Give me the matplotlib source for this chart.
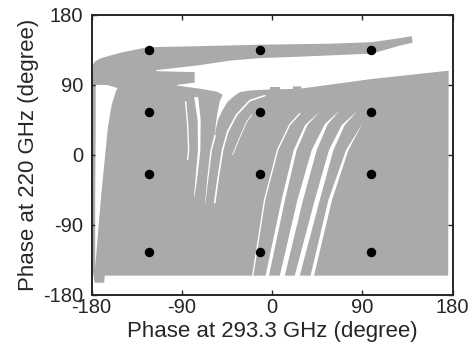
import matplotlib
matplotlib.use('Agg')
import matplotlib.pyplot as plt
import numpy as np

plt.rcParams['font.family'] = ['Liberation Sans', 'DejaVu Sans']

# ---- data (degrees) ----
ticks = [-180, -90, 0, 90, 180]
dot_x = [-123, -12, 99]
dot_y = [135, 55, -25, -125]

# outline of the covered phase region
region_x = [-180, -177, -172, -162, -151, -124.2, -72.3, -12.5, 57.3, 99.2, 127.1, 139.1, 140.1,
            127.1, 99.2, 27.4, -12.5, -42.4, -72.3, -116.2,
            -115.2, -77.3, -77.3, -95.2, -94.2, -72.3, -55.3, -49.4,
            -52.4, -54.9, -56.3, -57.8, -58.3,
            -56.3, -53.9, -50.4, -44.4, -37.4, -32.4, -22.4, -10.5,
            -2.5, -2, 7.5, 8, 20.4, 20.9, 28.9, 29.4, 99.2, 176,
            175.5, -167, -167.5, -177, -179, -179, -180]
region_y = [111.9, 119.6, 123.4, 127.3, 131.1, 138.2, 139.5, 141.4, 142.7, 144.6, 149.8, 152.4, 144,
            140.1, 129.9, 126, 124.1, 120.9, 115.1, 108.6,
            107.4, 106.1, 92.6, 89.6, 88.7, 84.9, 81, 77.1,
            68.1, 51.4, 38.6, 19.3, 12.9,
            32.1, 45, 55.3, 68.1, 75.9, 80.4, 82.5, 83.3,
            83.8, 87, 87, 84.2, 84.5, 87.8, 87.8, 85.1, 97.3, 108,
            -155.5, -155.5, -164.6, -164.6, -147.9, 91.3, 92.6]

# uncovered wedge along the left edge
gap_x = [-176, -164, -154, -155.3, -160, -163.7, -170.3, -173.7, -176.5, -176.5, -176]
gap_y = [90, 89.4, 85.5, 83.6, 64.3, 36.4, -49.2, -100.7, -145.3, -57.9, 45]

# uncovered tapered slits: (centre x, y, half width)
wide_slits = [
    ([47.4, 33.4, 22.4, 10.5, -5.5], [56.6, 38.6, 6.4, -57.9, -155.5], [0, 1.2, 1.5, 1.7, 1.7]),
    ([67.3, 53.4, 41.4, 27.4, 9.5], [57.9, 39.9, 6.4, -57.9, -155.5], [0, 1.5, 2.5, 2.8, 2.5]),
    ([84.3, 70.3, 58.3, 44.4, 24.4], [56.6, 38.6, 6.4, -57.9, -155.5], [0, 1.5, 2.2, 2.5, 2.5]),
    ([90.2, 74.3, 57.3, 39.4], [42.4, 6.4, -57.9, -155.5], [0, 1.2, 1.8, 1.7]),
    ([-76.3, -73.3, -73.3, -76.3, -78.3], [74.6, 45, 6.4, -32.1, -54], [2, 1.5, 1.2, 0.8, 0.2]),
    ([-57.3, -61.3, -64.3, -67.3], [25.7, 6.4, -25.7, -61.7], [0.8, 0.8, 0.6, 0.2]),
]
# thin uncovered lines: (x, y, width)
thin_slits = [
    ([27.4, 17.5, 5.5, -7.5, -19.4], [52.7, 38.6, 6.4, -57.9, -155.5], 1.0),
    ([-86.3, -84.3, -83.3, -84.3], [68.1, 38.6, 6.4, -6.4], 1.0),
    ([-7.5, -22.4, -35.4, -44.4, -49.4, -53.4, -57.3], [75.9, 69.4, 51.4, 29.6, 6.4, -25.7, -61.7], 1.2),
    ([-20.4, -25.4, -32.4, -39.4], [51.4, 42.4, 21.9, 0], 0.6),
]

gray = '#aaaaaa'
ink = '#262626'

fig = plt.figure(figsize=(4.76, 3.52), dpi=100)
ax = fig.add_axes([0.1926, 0.1628, 0.7584, 0.7955])

ax.fill(region_x, region_y, color=gray, lw=0, zorder=1)
ax.fill(gap_x, gap_y, color='white', lw=0, zorder=2)
for sx, sy, hw in wide_slits:
    sx = np.array(sx); hw = np.array(hw)
    ax.fill_betweenx(sy, sx - hw, sx + hw, color='white', lw=0, zorder=2)
for sx, sy, w in thin_slits:
    ax.plot(sx, sy, color='white', lw=w, zorder=2, solid_capstyle='round')

gx, gy = np.meshgrid(dot_x, dot_y)
ax.plot(gx.ravel(), gy.ravel(), 'o', color='black', ms=5.8, zorder=4, ls='none')

ax.set_xlim(-180, 180)
ax.set_ylim(-180, 180)
ax.set_xticks(ticks)
ax.set_yticks(ticks)
ax.set_xticklabels([str(t) for t in ticks])
ax.set_yticklabels([str(t) for t in ticks])
ax.tick_params(direction='in', top=True, right=True, length=3.5, width=1.0,
               colors=ink, labelsize=14.5)
ax.tick_params(axis='x', pad=2.5)
ax.tick_params(axis='y', pad=6)
for s in ax.spines.values():
    s.set_linewidth(1.4)
    s.set_color(ink)
    s.set_zorder(5)

ax.set_xlabel('Phase at 293.3 GHz (degree)', fontsize=16, color=ink, labelpad=2.5)
ax.set_ylabel('Phase at 220 GHz (degree)', fontsize=16, color=ink, labelpad=3)

fig.savefig('out.png', dpi=100)
